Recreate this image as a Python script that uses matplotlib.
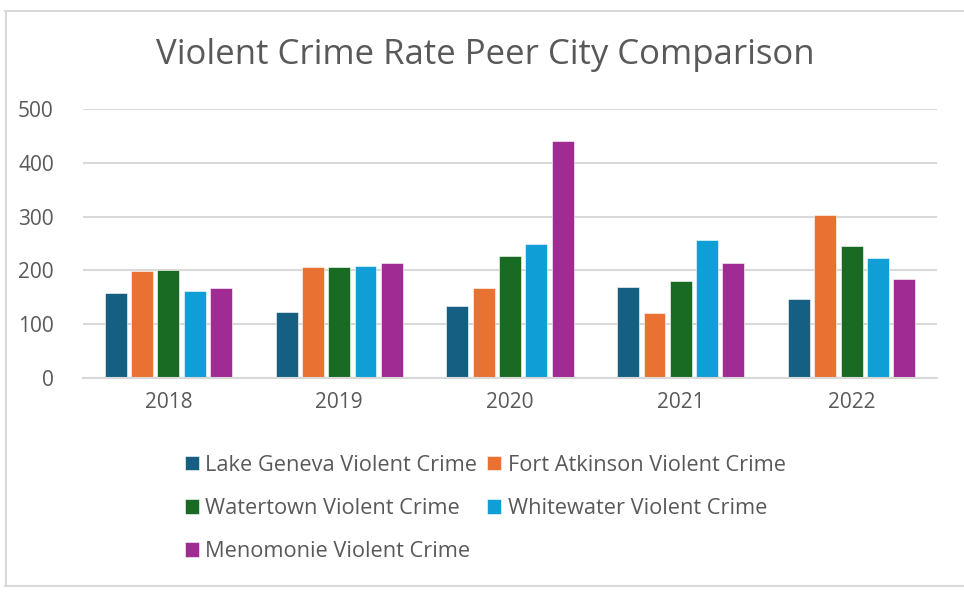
import matplotlib
matplotlib.use("Agg")
import matplotlib.pyplot as plt
import numpy as np
from matplotlib.lines import Line2D

years = ["2018", "2019", "2020", "2021", "2022"]
series_names = [
    "Lake Geneva Violent Crime",
    "Fort Atkinson Violent Crime",
    "Watertown Violent Crime",
    "Whitewater Violent Crime",
    "Menomonie Violent Crime",
]
lake_geneva = [158, 122, 134, 169, 146]
fort_atkinson = [199, 207, 168, 120, 303]
watertown = [201, 206, 227, 180, 245]
whitewater = [162, 209, 249, 256, 223]
menomonie = [168, 214, 440, 214, 184]
colors = ["#156082", "#E97132", "#196B24", "#0F9ED5", "#A02B93"]

data = [lake_geneva, fort_atkinson, watertown, whitewater, menomonie]

plt.rcParams["font.family"] = ["Open Sans", "DejaVu Sans"]
text_color = "#595959"
grid_color = "#D9D9D9"

W, H = 964, 592
fig = plt.figure(figsize=(W / 100, H / 100), dpi=100)
fig.patch.set_facecolor("white")

# chart border
border = dict(color="#D9D9D9", lw=1.5, transform=fig.transFigure)
fig.add_artist(Line2D([5 / W, 1], [1 - 10.5 / H, 1 - 10.5 / H], **border))
fig.add_artist(Line2D([5.5 / W, 5.5 / W], [1 - 10.5 / H, 1 - 586 / H], **border))
fig.add_artist(Line2D([5 / W, 1], [1 - 586 / H, 1 - 586 / H], **border))

ax = fig.add_axes([83 / W, 1 - 378 / H, (937 - 83) / W, (378 - 109) / H])
x = np.arange(len(years))
step = 0.154
width = 0.128
handles = []
for i, (vals, name, c) in enumerate(zip(data, series_names, colors)):
    b = ax.bar(x + (i - 2) * step, vals, width, color=c, label=name,
               edgecolor="white", linewidth=0.4, zorder=3)
    handles.append(b)

ax.set_xlim(-0.5, len(years) - 0.5)
ax.set_ylim(0, 500)
ax.set_yticks([0, 100, 200, 300, 400, 500])
ax.set_xticks(x)
ax.set_xticklabels(years)
ax.tick_params(axis="both", length=0, labelsize=15, labelcolor=text_color)
ax.tick_params(axis="y", pad=21)
ax.tick_params(axis="x", pad=10)
ax.grid(axis="y", color=grid_color, lw=1.5, zorder=0)
for s in ["top", "right", "left"]:
    ax.spines[s].set_visible(False)
ax.spines["bottom"].set_color(grid_color)
ax.spines["bottom"].set_linewidth(1.5)
ax.spines["bottom"].set_zorder(4)

fig.text(485 / W, 1 - 55 / H, "Violent Crime Rate Peer City Comparison",
         ha="center", va="center", fontsize=25, color=text_color)

order = [0, 2, 4, 1, 3]
leg = fig.legend([handles[i] for i in order], [series_names[i] for i in order],
                 ncol=2, loc="upper left", bbox_to_anchor=(176 / W, 1 - 446 / H),
                 frameon=False, fontsize=15.7, labelcolor=text_color,
                 handlelength=0.65, handleheight=0.65, handletextpad=0.3,
                 columnspacing=0.45, labelspacing=1.02, borderaxespad=0)

fig.savefig("out.png", dpi=100, facecolor="white")
